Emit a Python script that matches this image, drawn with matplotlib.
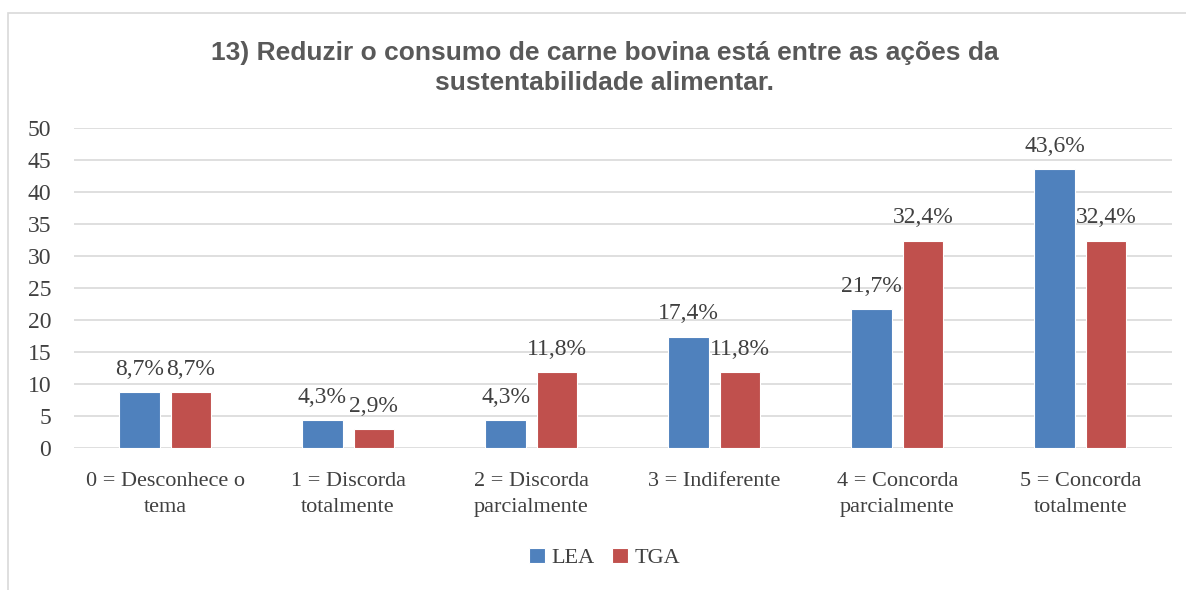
import matplotlib.pyplot as plt
import numpy as np
from matplotlib.patches import Rectangle

categories = ['0 = Desconhece o\ntema', '1 = Discorda\ntotalmente', '2 = Discorda\nparcialmente',
              '3 = Indiferente', '4 = Concorda\nparcialmente', '5 = Concorda\ntotalmente']
lea = [8.7, 4.3, 4.3, 17.4, 21.7, 43.6]
tga = [8.7, 2.9, 11.8, 11.8, 32.4, 32.4]
yticks = [0, 5, 10, 15, 20, 25, 30, 35, 40, 45, 50]

serif = ['Liberation Serif', 'DejaVu Serif']
txt = '#404040'

fig = plt.figure(figsize=(11.86, 5.90), dpi=100)
ax = fig.add_axes([0.062, 0.2407, 0.926, 0.5424])

# chart frame
fig.patches.append(Rectangle((8 / 1186, -0.1), 1.2, 1 - 13 / 590 + 0.1, transform=fig.transFigure,
                             fill=False, edgecolor='#d9d9d9', linewidth=1.2))

x = np.arange(len(categories))
w = 0.22
off = 0.14
b1 = ax.bar(x - off, lea, w, color='#4F81BD', edgecolor='white', linewidth=0.8, label='LEA', zorder=3)
b2 = ax.bar(x + off, tga, w, color='#C0504D', edgecolor='white', linewidth=0.8, label='TGA', zorder=3)

for bars, vals in ((b1, lea), (b2, tga)):
    for r, v in zip(bars, vals):
        ax.text(r.get_x() + r.get_width() / 2, v + 1.9, ('%.1f%%' % v).replace('.', ','),
                ha='center', va='bottom', fontsize=17, color=txt, family=serif)

ax.set_xlim(-0.5, len(categories) - 0.5)
ax.set_ylim(0, 50)
ax.set_yticks(yticks)
ax.set_yticklabels([str(t) for t in yticks], family=serif, fontsize=17, color=txt)
ax.set_xticks(x)
ax.set_xticklabels(categories, family=serif, fontsize=16, color=txt, linespacing=1.55)
ax.tick_params(axis='x', length=0, pad=17)
ax.tick_params(axis='y', length=0, pad=16)
ax.grid(axis='y', color='#d9d9d9', linewidth=1.2, zorder=0)
for s in ax.spines.values():
    s.set_visible(False)

fig.text(0.51, 0.885, '13) Reduzir o consumo de carne bovina está entre as ações da\nsustentabilidade alimentar.',
         ha='center', va='center', fontsize=19, fontweight='bold', color='#595959',
         family=['Liberation Sans', 'DejaVu Sans'], linespacing=1.35)

fig.legend(handles=[b1, b2], loc='center', bbox_to_anchor=(0.51, 0.054), ncol=2, frameon=False,
           prop={'family': serif, 'size': 16}, labelcolor=txt, handlelength=0.7, handleheight=0.7,
           handletextpad=0.3, columnspacing=0.8)

plt.savefig('out.png', dpi=100)
